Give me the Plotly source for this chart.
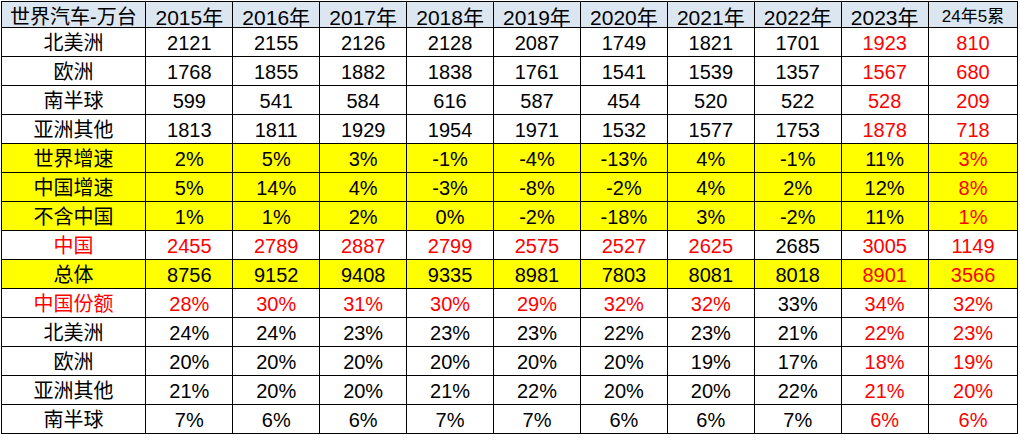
import plotly.graph_objects as go

header = ["世界汽车-万台", "2015年", "2016年", "2017年", "2018年", "2019年", "2020年",
          "2021年", "2022年", "2023年", "24年5累"]
row_labels = ["北美洲", "欧洲", "南半球", "亚洲其他", "世界增速", "中国增速", "不含中国",
              "中国", "总体", "中国份额", "北美洲", "欧洲", "亚洲其他", "南半球"]
rows = [
    ["2121", "2155", "2126", "2128", "2087", "1749", "1821", "1701", "1923", "810"],
    ["1768", "1855", "1882", "1838", "1761", "1541", "1539", "1357", "1567", "680"],
    ["599", "541", "584", "616", "587", "454", "520", "522", "528", "209"],
    ["1813", "1811", "1929", "1954", "1971", "1532", "1577", "1753", "1878", "718"],
    ["2%", "5%", "3%", "-1%", "-4%", "-13%", "4%", "-1%", "11%", "3%"],
    ["5%", "14%", "4%", "-3%", "-8%", "-2%", "4%", "2%", "12%", "8%"],
    ["1%", "1%", "2%", "0%", "-2%", "-18%", "3%", "-2%", "11%", "1%"],
    ["2455", "2789", "2887", "2799", "2575", "2527", "2625", "2685", "3005", "1149"],
    ["8756", "9152", "9408", "9335", "8981", "7803", "8081", "8018", "8901", "3566"],
    ["28%", "30%", "31%", "30%", "29%", "32%", "32%", "33%", "34%", "32%"],
    ["24%", "24%", "23%", "23%", "23%", "22%", "23%", "21%", "22%", "23%"],
    ["20%", "20%", "20%", "20%", "20%", "20%", "19%", "17%", "18%", "19%"],
    ["21%", "20%", "20%", "21%", "22%", "20%", "20%", "22%", "21%", "20%"],
    ["7%", "6%", "6%", "7%", "7%", "6%", "6%", "7%", "6%", "6%"],
]
yellow_rows = [4, 5, 6, 8]
# 2023 cells shown in black
black_2023 = [4, 5, 6]

RED, BLACK, YELLOW = "#ff0000", "#000000", "#ffff00"

columns = [row_labels] + [[r[j] for r in rows] for j in range(10)]
fills, fonts = [], []
for c in range(11):
    fills.append([YELLOW if i in yellow_rows else "white" for i in range(len(rows))])
    col_font = []
    for i in range(len(rows)):
        if c == 0:
            red = i in (7, 9)
        elif c == 10:
            red = True
        elif c == 9:
            red = i not in black_2023
        else:
            red = i in (7, 9) and c != 8
        col_font.append(RED if red else BLACK)
    fonts.append(col_font)

FONT = "Liberation Sans, Noto Sans CJK SC"
fig = go.Figure(go.Table(
    columnwidth=[145] + [87] * 9 + [90],
    header=dict(values=header, fill_color="#dce6f1", line=dict(color="black", width=1),
                font=dict(family=FONT, size=[20] + [21] * 9 + [17], color="black"),
                align="center", height=26),
    cells=dict(values=columns, fill_color=fills, line=dict(color="black", width=1),
               font=dict(family=FONT, size=20, color=fonts),
               align="center", height=29),
))
fig.update_layout(width=1020, height=441, margin=dict(l=1, r=2, t=1, b=0),
                  paper_bgcolor="white")
fig.write_html("out.html", config={"displayModeBar": False},
               post_script="document.body.style.margin='0';")
